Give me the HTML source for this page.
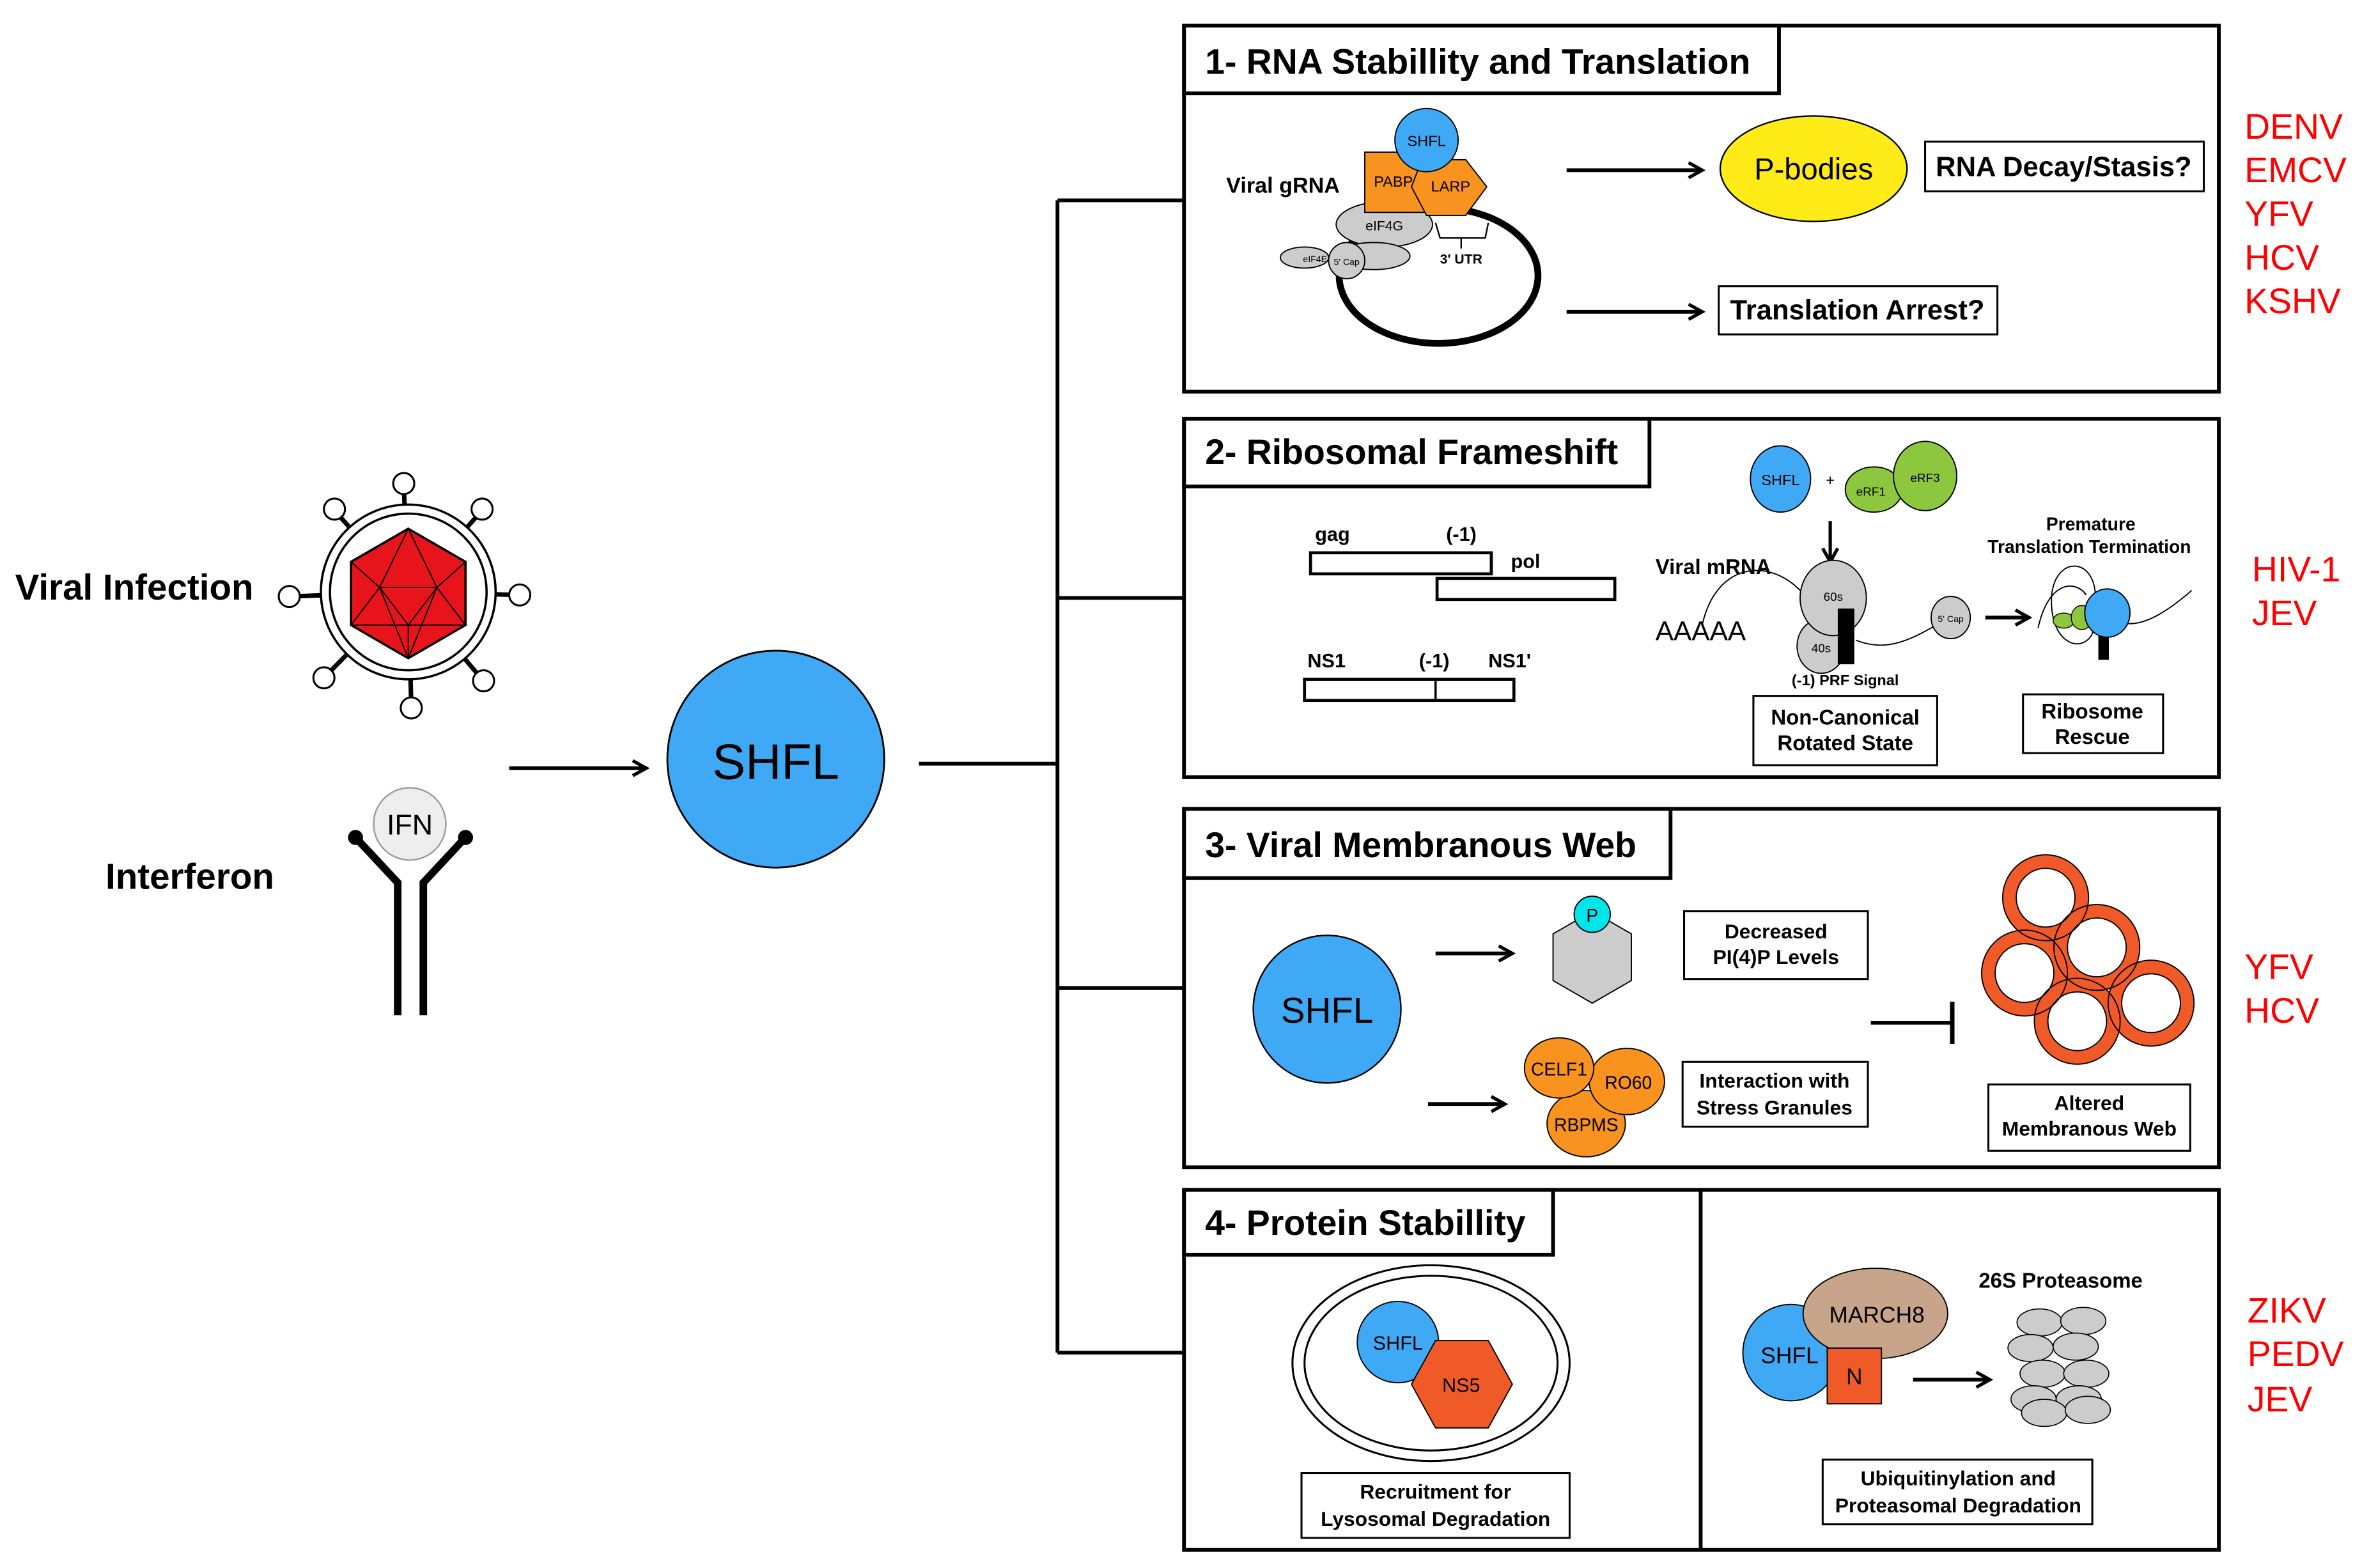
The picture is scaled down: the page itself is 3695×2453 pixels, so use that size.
<!DOCTYPE html>
<html><head><meta charset="utf-8"><style>
html,body{margin:0;padding:0;background:#fff;}
svg{display:block;}
text{font-family:"Liberation Sans",sans-serif;}
</style></head><body>
<svg width="3695" height="2453" viewBox="0 0 1568 1041" xmlns="http://www.w3.org/2000/svg">
<defs>
<marker id="ah" markerWidth="12" markerHeight="12" refX="10" refY="6" orient="auto" markerUnits="userSpaceOnUse">
<path d="M1,1 L10,6 L1,11" fill="none" stroke="#000" stroke-width="2.2"/>
</marker>
</defs>
<rect width="1568" height="1041" fill="#fff"/>

<g stroke="#000" stroke-width="3">
<line x1="271" y1="393" x2="268" y2="322"/><line x1="271" y1="393" x2="320" y2="339"/>
<line x1="271" y1="393" x2="344" y2="395"/><line x1="271" y1="393" x2="320" y2="451"/>
<line x1="271" y1="393" x2="273" y2="469"/><line x1="271" y1="393" x2="216" y2="449"/>
<line x1="271" y1="393" x2="193" y2="396"/><line x1="271" y1="393" x2="222" y2="339"/>
</g>
<g fill="#fff" stroke="#000" stroke-width="1.3">
<circle cx="268" cy="321" r="7"/><circle cx="320" cy="338" r="7"/><circle cx="345" cy="395" r="7"/>
<circle cx="321" cy="452" r="7"/><circle cx="273" cy="470" r="7"/><circle cx="215" cy="450" r="7"/>
<circle cx="192" cy="396" r="7"/><circle cx="222" cy="338" r="7"/>
</g>
<circle cx="271" cy="393" r="58" fill="#fff" stroke="#000" stroke-width="1.5"/>
<circle cx="271" cy="393" r="52" fill="#fff" stroke="#000" stroke-width="1.5"/>
<polygon points="271,351 309,373 309,415 271,437 233,415 233,373" fill="#e8141b" stroke="#000" stroke-width="1.5"/>
<g stroke="#000" stroke-width="0.8" fill="none">
<polyline points="271,351 252,390 290,390 271,351"/><polyline points="233,373 252,390 271,437 290,390 309,373"/>
<polyline points="233,415 252,390"/><polyline points="309,415 290,390"/><polyline points="252,390 271,415 290,390"/><line x1="271" y1="415" x2="271" y2="437"/><line x1="233" y1="415" x2="271" y2="415"/><line x1="271" y1="415" x2="309" y2="415"/>
</g>
<text x="10" y="398" font-size="24" font-weight="bold">Viral Infection</text>
<text x="70" y="590" font-size="24" font-weight="bold">Interferon</text>
<g stroke="#000" stroke-width="5" fill="none">
<polyline points="236,556 264,586 264,674"/><polyline points="309,556 281,586 281,674"/>
</g>
<circle cx="236" cy="556" r="5" fill="#000"/><circle cx="309" cy="556" r="5" fill="#000"/>
<circle cx="272" cy="547" r="24" fill="#eee" stroke="#999" stroke-width="1"/>
<text x="272" y="554" font-size="19" text-anchor="middle">IFN</text>

<line x1="338" y1="510" x2="429" y2="510" stroke="#000" stroke-width="2.5" marker-end="url(#ah)"/>
<circle cx="515" cy="504" r="72" fill="#3fa9f5" stroke="#000" stroke-width="1.2"/>
<text x="515" y="517" font-size="33" text-anchor="middle">SHFL</text>

<g stroke="#000" stroke-width="2.5" fill="none">
<line x1="610" y1="507" x2="702" y2="507"/>
<line x1="702" y1="133" x2="702" y2="898"/>
<line x1="702" y1="133" x2="786" y2="133"/><line x1="702" y1="397" x2="786" y2="397"/>
<line x1="702" y1="656" x2="786" y2="656"/><line x1="702" y1="898" x2="786" y2="898"/>
</g>

<g fill="none" stroke="#000" stroke-width="2.5">
<rect x="786" y="17" width="687" height="243"/>
<rect x="786" y="17" width="395" height="45"/>
<rect x="786" y="278" width="687" height="238"/>
<rect x="786" y="278" width="309" height="45"/>
<rect x="786" y="537" width="687" height="238"/>
<rect x="786" y="537" width="323" height="46"/>
<rect x="786" y="790" width="687" height="239"/>
<rect x="786" y="790" width="245" height="43"/>
<line x1="1129" y1="790" x2="1129" y2="1029"/>
</g>
<g font-size="23.5" font-weight="bold">
<text x="800" y="49">1- RNA Stabillity and Translation</text>
<text x="800" y="308">2- Ribosomal Frameshift</text>
<text x="800" y="569">3- Viral Membranous Web</text>
<text x="800" y="820">4- Protein Stabillity</text>
</g>

<g fill="#ff0000" font-size="23.5">
<text x="1490" y="92">DENV</text><text x="1490" y="121">EMCV</text><text x="1490" y="150">YFV</text><text x="1490" y="179">HCV</text><text x="1490" y="208">KSHV</text>
<text x="1495" y="386">HIV-1</text><text x="1495" y="415">JEV</text>
<text x="1490" y="650">YFV</text><text x="1490" y="679">HCV</text>
<text x="1492" y="878">ZIKV</text><text x="1492" y="907">PEDV</text><text x="1492" y="937">JEV</text>
</g>

<!-- Panel 1 -->
<ellipse cx="955" cy="183" rx="66" ry="45" fill="none" stroke="#000" stroke-width="4.5"/>
<text x="814" y="128" font-size="14.5" font-weight="bold">Viral gRNA</text>
<ellipse cx="919" cy="149" rx="32" ry="15" fill="#ccc" stroke="#000" stroke-width="0.8"/>
<text x="919" y="153" font-size="9" text-anchor="middle">eIF4G</text>
<ellipse cx="866" cy="171" rx="16" ry="7" fill="#ccc" stroke="#000" stroke-width="0.8"/>
<ellipse cx="912" cy="170" rx="24" ry="9" fill="#ccc" stroke="#000" stroke-width="0.8"/>
<text x="865" y="174" font-size="6">eIF4E</text>
<circle cx="894" cy="173" r="12" fill="#ccc" stroke="#000" stroke-width="0.8"/>
<text x="894" y="176" font-size="6" text-anchor="middle">5' Cap</text>
<rect x="906" y="101" width="42" height="40" fill="#f7931e" stroke="#000" stroke-width="0.8"/>
<text x="925" y="124" font-size="10" text-anchor="middle">PABP</text>
<polygon points="944,106 973,106 987,124 973,143 947,143 937,124" fill="#f7931e" stroke="#000" stroke-width="0.8"/>
<text x="963" y="127" font-size="10" text-anchor="middle">LARP</text>
<circle cx="947" cy="93" r="21" fill="#3fa9f5" stroke="#000" stroke-width="0.8"/>
<text x="947" y="97" font-size="10" text-anchor="middle">SHFL</text>
<polyline points="953,148 956,158 986,158 988,148" fill="none" stroke="#000" stroke-width="1"/>
<line x1="970" y1="158" x2="970" y2="165" stroke="#000" stroke-width="1"/>
<text x="970" y="175" font-size="9" font-weight="bold" text-anchor="middle">3' UTR</text>
<line x1="1040" y1="113" x2="1130" y2="113" stroke="#000" stroke-width="2.5" marker-end="url(#ah)"/>
<line x1="1040" y1="207" x2="1130" y2="207" stroke="#000" stroke-width="2.5" marker-end="url(#ah)"/>
<ellipse cx="1204" cy="112" rx="62" ry="35" fill="#ffeb17" stroke="#000" stroke-width="1"/>
<text x="1204" y="119" font-size="20" text-anchor="middle">P-bodies</text>
<rect x="1278" y="94" width="185" height="33" fill="#fff" stroke="#000" stroke-width="1.3"/>
<text x="1370" y="117" font-size="18.5" font-weight="bold" text-anchor="middle">RNA Decay/Stasis?</text>
<rect x="1141" y="190" width="185" height="32" fill="#fff" stroke="#000" stroke-width="1.3"/>
<text x="1233" y="212" font-size="18.5" font-weight="bold" text-anchor="middle">Translation Arrest?</text>

<!-- Panel 2 -->
<text x="873" y="359" font-size="13" font-weight="bold">gag</text>
<text x="960" y="359" font-size="13" font-weight="bold">(-1)</text>
<text x="1003" y="377" font-size="13" font-weight="bold">pol</text>
<rect x="870" y="367" width="120" height="14" fill="#fff" stroke="#000" stroke-width="2"/>
<rect x="954" y="384" width="118" height="14" fill="#fff" stroke="#000" stroke-width="2"/>
<text x="868" y="443" font-size="13" font-weight="bold">NS1</text>
<text x="942" y="443" font-size="13" font-weight="bold">(-1)</text>
<text x="988" y="443" font-size="13" font-weight="bold">NS1'</text>
<rect x="866" y="451" width="139" height="14" fill="#fff" stroke="#000" stroke-width="2"/>
<line x1="953" y1="451" x2="953" y2="465" stroke="#000" stroke-width="1.5"/>
<ellipse cx="1182" cy="318" rx="20" ry="22" fill="#3fa9f5" stroke="#000" stroke-width="0.8"/>
<text x="1182" y="322" font-size="10" text-anchor="middle">SHFL</text>
<text x="1215" y="322" font-size="10" text-anchor="middle">+</text>
<ellipse cx="1244" cy="325" rx="19" ry="15" fill="#8dc63f" stroke="#000" stroke-width="0.8"/>
<ellipse cx="1278" cy="316" rx="21" ry="23" fill="#8dc63f" stroke="#000" stroke-width="0.8"/>
<text x="1242" y="329" font-size="8" text-anchor="middle">eRF1</text>
<text x="1278" y="320" font-size="8" text-anchor="middle">eRF3</text>
<line x1="1215" y1="346" x2="1215" y2="373" stroke="#000" stroke-width="2.2" marker-end="url(#ah)"/>
<text x="1099" y="381" font-size="14" font-weight="bold">Viral mRNA</text>
<text x="1099" y="425" font-size="18">AAAAA</text>
<path d="M1130,415 C1140,370 1180,370 1200,398" fill="none" stroke="#000" stroke-width="0.8"/>
<path d="M1232,425 C1250,432 1265,428 1290,412" fill="none" stroke="#000" stroke-width="0.8"/>
<ellipse cx="1209" cy="429" rx="16" ry="18" fill="#ccc" stroke="#000" stroke-width="0.8"/>
<text x="1209" y="433" font-size="8" text-anchor="middle">40s</text>
<ellipse cx="1217" cy="397" rx="22" ry="25" fill="#ccc" stroke="#000" stroke-width="0.8"/>
<text x="1217" y="399" font-size="8" text-anchor="middle">60s</text>
<rect x="1220" y="404" width="11" height="37" fill="#000"/>
<text x="1225" y="455" font-size="10" font-weight="bold" text-anchor="middle">(-1) PRF Signal</text>
<ellipse cx="1295" cy="410" rx="13" ry="14" fill="#ccc" stroke="#000" stroke-width="0.8"/>
<text x="1295" y="413" font-size="6" text-anchor="middle">5' Cap</text>
<line x1="1318" y1="410" x2="1347" y2="410" stroke="#000" stroke-width="2.5" marker-end="url(#ah)"/>
<text x="1388" y="352" font-size="12" font-weight="bold" text-anchor="middle">Premature</text>
<text x="1387" y="367" font-size="12" font-weight="bold" text-anchor="middle">Translation Termination</text>
<path d="M1353,417 C1360,385 1378,385 1385,395 M1391,398 C1392,370 1365,368 1362,395 C1360,430 1385,435 1390,418 M1412,414 C1425,415 1440,405 1455,392" fill="none" stroke="#000" stroke-width="0.8"/>
<rect x="1393" y="415" width="7" height="23" fill="#000"/>
<ellipse cx="1370" cy="412" rx="7" ry="5" fill="#8dc63f" stroke="#000" stroke-width="0.6"/>
<ellipse cx="1382" cy="410" rx="7" ry="8" fill="#8dc63f" stroke="#000" stroke-width="0.6"/>
<ellipse cx="1399" cy="407" rx="15" ry="16" fill="#3fa9f5" stroke="#000" stroke-width="0.8"/>
<rect x="1164" y="462" width="122" height="46" fill="#fff" stroke="#000" stroke-width="1.3"/>
<text x="1225" y="481" font-size="14" font-weight="bold" text-anchor="middle">Non-Canonical</text>
<text x="1225" y="498" font-size="14" font-weight="bold" text-anchor="middle">Rotated State</text>
<rect x="1343" y="461" width="93" height="39" fill="#fff" stroke="#000" stroke-width="1.3"/>
<text x="1389" y="477" font-size="14" font-weight="bold" text-anchor="middle">Ribosome</text>
<text x="1389" y="494" font-size="14" font-weight="bold" text-anchor="middle">Rescue</text>

<!-- Panel 3 -->
<circle cx="881" cy="670" r="49" fill="#3fa9f5" stroke="#000" stroke-width="1"/>
<text x="881" y="679" font-size="24" text-anchor="middle">SHFL</text>
<line x1="953" y1="633" x2="1004" y2="633" stroke="#000" stroke-width="2.5" marker-end="url(#ah)"/>
<line x1="948" y1="733" x2="999" y2="733" stroke="#000" stroke-width="2.5" marker-end="url(#ah)"/>
<polygon points="1057,605 1083,620 1083,651 1057,666 1031,651 1031,620" fill="#ccc" stroke="#000" stroke-width="0.8"/>
<circle cx="1057" cy="607" r="12" fill="#00e5ea" stroke="#000" stroke-width="0.8"/>
<text x="1057" y="612" font-size="12" text-anchor="middle">P</text>
<rect x="1118" y="605" width="122" height="45" fill="#fff" stroke="#000" stroke-width="1.3"/>
<text x="1179" y="623" font-size="13.5" font-weight="bold" text-anchor="middle">Decreased</text>
<text x="1179" y="640" font-size="13.5" font-weight="bold" text-anchor="middle">PI(4)P Levels</text>
<ellipse cx="1053" cy="746" rx="26" ry="22" fill="#f7931e" stroke="#000" stroke-width="0.8"/>
<ellipse cx="1080" cy="718" rx="25" ry="22" fill="#f7931e" stroke="#000" stroke-width="0.8"/>
<ellipse cx="1035" cy="709" rx="23" ry="20" fill="#f7931e" stroke="#000" stroke-width="0.8"/>
<text x="1035" y="714" font-size="12" text-anchor="middle">CELF1</text>
<text x="1081" y="723" font-size="12" text-anchor="middle">RO60</text>
<text x="1053" y="751" font-size="12" text-anchor="middle">RBPMS</text>
<rect x="1117" y="705" width="123" height="43" fill="#fff" stroke="#000" stroke-width="1.3"/>
<text x="1178" y="722" font-size="13.5" font-weight="bold" text-anchor="middle">Interaction with</text>
<text x="1178" y="740" font-size="13.5" font-weight="bold" text-anchor="middle">Stress Granules</text>
<line x1="1242" y1="679" x2="1296" y2="679" stroke="#000" stroke-width="2.5"/>
<line x1="1296" y1="665" x2="1296" y2="693" stroke="#000" stroke-width="3"/>
<g fill="#fff" stroke="#f05a28" stroke-width="9">
<circle cx="1379" cy="678" r="24"/><circle cx="1428" cy="666" r="24"/><circle cx="1344" cy="646" r="24"/><circle cx="1392" cy="629" r="24"/><circle cx="1358" cy="596" r="24"/>
</g>
<g fill="none" stroke="#000" stroke-width="0.8">
<circle cx="1379" cy="678" r="28.5"/><circle cx="1379" cy="678" r="19.5"/>
<circle cx="1428" cy="666" r="28.5"/><circle cx="1428" cy="666" r="19.5"/>
<circle cx="1344" cy="646" r="28.5"/><circle cx="1344" cy="646" r="19.5"/>
<circle cx="1392" cy="629" r="28.5"/><circle cx="1392" cy="629" r="19.5"/>
<circle cx="1358" cy="596" r="28.5"/><circle cx="1358" cy="596" r="19.5"/>
</g>
<rect x="1320" y="720" width="134" height="44" fill="#fff" stroke="#000" stroke-width="1.3"/>
<text x="1387" y="737" font-size="13.5" font-weight="bold" text-anchor="middle">Altered</text>
<text x="1387" y="754" font-size="13.5" font-weight="bold" text-anchor="middle">Membranous Web</text>

<!-- Panel 4 -->
<ellipse cx="950" cy="905" rx="92" ry="65" fill="none" stroke="#000" stroke-width="1.3"/>
<ellipse cx="950" cy="905" rx="84" ry="58" fill="none" stroke="#000" stroke-width="1.3"/>
<circle cx="928" cy="891" r="27" fill="#3fa9f5" stroke="#000" stroke-width="0.8"/>
<text x="928" y="896" font-size="13" text-anchor="middle">SHFL</text>
<polygon points="953,890 988,890 1004,919 988,948 953,948 937,919" fill="#f05a28" stroke="#000" stroke-width="0.8"/>
<text x="970" y="924" font-size="13" text-anchor="middle">NS5</text>
<rect x="864" y="978" width="178" height="43" fill="#fff" stroke="#000" stroke-width="1.3"/>
<text x="953" y="995" font-size="13.5" font-weight="bold" text-anchor="middle">Recruitment for</text>
<text x="953" y="1013" font-size="13.5" font-weight="bold" text-anchor="middle">Lysosomal Degradation</text>
<circle cx="1189" cy="898" r="32" fill="#3fa9f5" stroke="#000" stroke-width="0.8"/>
<text x="1188" y="905" font-size="15" text-anchor="middle">SHFL</text>
<ellipse cx="1245" cy="872" rx="48" ry="30" fill="#c8a58a" stroke="#000" stroke-width="0.8"/>
<text x="1246" y="878" font-size="15" text-anchor="middle">MARCH8</text>
<rect x="1213" y="895" width="36" height="37" fill="#f05a28" stroke="#000" stroke-width="0.8"/>
<text x="1231" y="919" font-size="15" text-anchor="middle">N</text>
<line x1="1270" y1="916" x2="1321" y2="916" stroke="#000" stroke-width="2.5" marker-end="url(#ah)"/>
<text x="1368" y="855" font-size="14" font-weight="bold" text-anchor="middle">26S Proteasome</text>
<g fill="#ccc" stroke="#000" stroke-width="0.7">
<ellipse cx="1354" cy="878" rx="15" ry="9"/><ellipse cx="1383" cy="877" rx="15" ry="9"/>
<ellipse cx="1348" cy="895" rx="15" ry="9"/><ellipse cx="1378" cy="894" rx="15" ry="9"/>
<ellipse cx="1356" cy="912" rx="15" ry="9"/><ellipse cx="1385" cy="912" rx="15" ry="9"/>
<ellipse cx="1350" cy="929" rx="15" ry="9"/><ellipse cx="1380" cy="929" rx="15" ry="9"/>
<ellipse cx="1357" cy="938" rx="15" ry="9"/><ellipse cx="1386" cy="936" rx="15" ry="9"/>
</g>
<rect x="1210" y="969" width="179" height="43" fill="#fff" stroke="#000" stroke-width="1.3"/>
<text x="1300" y="986" font-size="13.5" font-weight="bold" text-anchor="middle">Ubiquitinylation and</text>
<text x="1300" y="1004" font-size="13.5" font-weight="bold" text-anchor="middle">Proteasomal Degradation</text>
</svg>
</body></html>
